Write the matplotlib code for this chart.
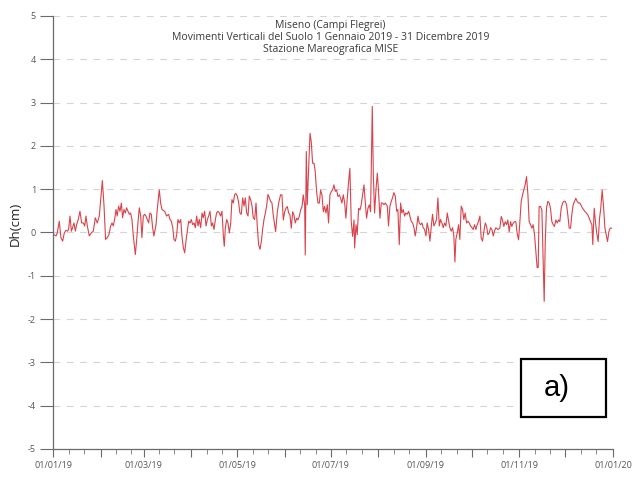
import datetime as dt
import matplotlib
matplotlib.use("Agg")
import matplotlib.pyplot as plt
import matplotlib.dates as mdates
from matplotlib.ticker import FuncFormatter
from matplotlib.patches import Rectangle

# ---- data: days since 01/01/2019 and vertical displacement (cm) ----
days = [
    0.5, 1.8, 2.6, 3.9, 5.0, 6.1, 7.2, 8.3, 9.4, 10.0, 10.9, 11.8, 12.6, 13.5, 14.4, 15.2,
    16.3, 17.4, 18.5, 19.6, 20.5, 21.3, 22.2, 23.5, 24.8, 26.1, 27.4, 28.7, 30.0, 32.0, 33.1,
    34.1, 35.2, 36.3, 37.4, 38.3, 39.1, 40.0, 40.9, 41.7, 42.6, 43.5, 44.4, 45.2, 46.1, 47.0,
    47.8, 48.7, 49.6, 50.4, 51.3, 52.2, 53.5, 54.4, 55.2, 56.1, 57.0, 57.8, 58.7, 59.6, 60.4,
    61.3, 62.2, 63.0, 63.9, 64.8, 65.6, 67.0, 67.8, 69.1, 70.0, 70.9,
    72.6, 73.9, 75.2, 76.1, 77.0, 77.9, 78.7, 79.6, 80.5, 81.3, 82.2, 83.1, 83.9, 84.8, 85.7,
    86.5, 87.4, 88.3, 89.2, 90.0, 90.9, 91.8, 92.6, 93.5, 94.4, 95.2, 96.1, 97.0, 97.8, 98.7,
    99.6, 100.5, 101.3, 102.2, 103.1, 103.9, 104.8, 105.7, 106.5, 107.4, 108.3, 109.1, 110.0,
    110.9, 111.5, 112.2, 113.1, 113.9, 114.8, 115.7, 116.5, 117.4, 118.3, 119.1, 120.0, 120.9,
    121.7, 122.6, 123.5, 124.4, 125.2, 126.1, 127.0, 127.8, 128.7, 129.6, 130.4, 131.3, 132.2,
    133.0, 133.9, 134.8, 135.7, 136.5, 137.4, 138.3, 139.1, 140.0, 140.9, 141.7, 142.6, 143.5,
    145.0, 146.1, 147.2, 148.2, 149.1, 150.0, 150.9, 151.7, 152.6, 153.5, 154.3, 155.2, 156.1,
    156.9, 157.8, 158.7, 159.5, 160.4, 161.3, 162.2, 163.0, 163.9, 164.3, 165.0, 165.6, 166.5,
    167.4, 168.2, 169.1, 170.0, 170.8, 171.7, 172.6, 173.5, 174.3, 175.2, 176.1, 176.9, 177.8,
    178.7, 179.5, 180.4, 181.3, 182.1, 183.0, 183.9, 184.8, 185.6, 186.5, 187.4, 188.2, 189.1,
    190.0, 190.8, 191.7, 192.6, 193.4, 194.3, 195.2, 196.1, 196.5, 197.4, 198.2, 199.1, 200.0,
    200.8, 201.7, 202.6, 203.4, 204.3, 205.2, 206.1, 206.9, 208.0, 208.7, 209.5, 210.4, 211.3,
    212.1, 213.0, 213.9, 214.7, 215.6, 216.5,
    217.8, 218.6, 219.5, 220.4, 221.2, 222.1, 223.0, 223.9, 224.7, 225.6, 226.5, 227.3, 228.2,
    229.1, 229.9, 230.8, 231.7, 232.5, 233.4, 234.3, 235.2, 236.0, 236.9, 237.8, 238.6, 239.5,
    240.4, 241.2, 242.1, 243.0, 243.8, 244.7, 245.6, 246.5, 247.3, 248.2, 249.1, 249.9, 250.8,
    251.7, 252.5, 253.4, 254.3, 255.1, 256.0, 256.9, 257.8, 258.6, 259.5, 260.4, 261.2, 261.9,
    262.5, 263.4, 264.3, 265.1, 266.0, 266.9, 267.7, 268.6, 269.5, 270.4, 271.2, 272.1, 273.0,
    273.8, 274.7, 275.6, 276.4, 277.3, 278.2, 279.0, 279.9, 280.8, 281.7, 282.5, 283.4, 284.3,
    285.1, 286.0, 286.9, 287.7, 288.6, 289.9,
    291.2, 292.1, 292.9, 293.8, 294.7, 295.6, 296.4, 297.3, 298.2, 299.0, 299.9, 300.8, 301.6,
    302.5, 303.4, 304.2, 305.1, 306.0, 306.8, 307.7, 308.6, 309.5, 310.3, 311.2, 312.1, 312.9,
    313.8, 314.7, 315.5, 316.2, 316.8, 317.7, 318.6, 319.5, 320.1, 320.8, 321.6, 322.5, 323.4,
    324.2, 325.1, 326.0, 326.8, 327.7, 328.6, 329.4, 330.3, 331.2, 332.1, 332.9, 333.8, 334.7,
    335.5, 336.4, 337.3, 338.1, 339.0, 339.9, 340.7, 341.6, 342.5, 343.4, 345.1, 346.8, 348.6,
    350.3, 351.2, 351.8, 352.7, 353.6, 354.4, 355.3, 356.2, 357.0, 357.9, 358.8, 359.7, 360.5,
    361.4, 362.3, 363.1, 364.0,
]
dh_cm = [
    -0.05, -0.08, -0.01, 0.26, -0.12, -0.20, -0.01, 0.05, 0.03, 0.08, 0.38, 0.03, 0.11, 0.22, 0.03, 0.18,
    0.30, 0.49, 0.22, 0.22, 0.15, 0.38, 0.15, -0.08, -0.01, 0.03, 0.34, 0.22, 0.38, 1.20, 0.61,
    -0.16, -0.12, -0.05, 0.15, 0.22, 0.15, 0.30, 0.53, 0.38, 0.61, 0.49, 0.68, 0.34, 0.53, 0.45,
    0.57, 0.49, 0.42, 0.45, 0.30, -0.08, -0.51, -0.16, 0.22, 0.57, 0.38, -0.12, 0.38, 0.42, 0.38,
    0.30, 0.22, 0.45, 0.42, 0.11, -0.08, 0.18, 0.53, 0.99, 0.68, 0.53,
    0.49, 0.38, 0.42, 0.30, 0.26, 0.11, -0.16, -0.20, -0.05, 0.30, 0.22, 0.30, -0.08, -0.35, -0.47,
    -0.20, 0.03, 0.26, 0.22, 0.30, 0.18, 0.22, 0.11, 0.38, 0.15, 0.30, 0.11, 0.45, 0.34, 0.49,
    0.15, 0.30, 0.38, 0.49, 0.15, 0.22, 0.07, 0.30, 0.45, 0.49, 0.45, 0.38, 0.49,
    -0.08, -0.32, 0.11, 0.30, 0.22, -0.01, 0.22, 0.76, 0.68, 0.88, 0.90, 0.84, 0.68,
    0.45, 0.42, 0.80, 0.61, 0.80, 0.45, 0.38, 0.84, 0.76, 0.61, 0.34, 0.30, 0.68,
    0.15, -0.28, -0.39, -0.20, 0.07, 0.30, 0.45, 0.61, 0.88, 0.80, 0.72, 0.68, 0.38,
    0.02, 0.48, 0.72, 0.87, 0.87, 0.29, 0.48, 0.56, 0.60, 0.45, 0.41, 0.10, 0.48,
    0.41, 0.22, 0.33, 0.29, 0.37, 0.52, 0.60, 0.87, 0.64, -0.52, 1.87, 0.64, 1.48,
    2.29, 2.10, 1.60, 1.60, 1.41, 0.95, 0.68, 0.68, 0.98, 0.87, 0.48, 0.60, 0.45,
    0.64, 0.22, 0.87, 0.95, 0.98, 1.10, 0.95, 0.98, 0.83, 0.87, 0.79, 0.68, 0.87,
    0.68, 0.33, 0.79, 1.18, 1.48, 0.25, -0.09, 0.29, -0.36, 0.18, -0.05, 0.56, 0.52,
    0.64, 0.87, 1.10, 0.72, 0.33, 0.56, 0.64, 0.48, 2.91, 1.33, 0.45, 0.98, 1.37,
    0.95, 0.33, 0.68, 0.68, 0.64, 0.68,
    0.61, 0.15, 0.61, 0.72, 0.80, 0.92, 0.84, 0.49, 0.53, -0.28, 0.68, 0.45, 0.53,
    0.38, 0.45, 0.42, 0.49, 0.38, 0.26, 0.22, 0.11, -0.08, 0.11, 0.38, 0.22, 0.18,
    0.22, 0.11, 0.07, -0.08, 0.22, 0.07, -0.20, 0.15, 0.42, 0.15, 0.22, 0.30, 0.80,
    0.15, 0.30, 0.22, 0.11, 0.22, 0.15, 0.45, 0.26, 0.11, 0.03, 0.11, -0.08, -0.68,
    -0.16, -0.01, 0.18, -0.16, 0.61, 0.53, 0.30, 0.45, 0.22, 0.26, 0.22, 0.15, 0.11,
    0.07, 0.18, 0.07, 0.18, 0.26, 0.38, -0.12, -0.20, 0.03, 0.22, 0.15, -0.05, -0.01,
    0.11, 0.07, -0.08, 0.03, 0.11, 0.07,
    0.10, 0.37, 0.29, 0.14, 0.25, 0.18, 0.29, 0.02, 0.25, 0.14, 0.22, 0.25, 0.25,
    -0.02, -0.17, 0.22, 0.72, 0.87, 0.98, 1.10, 1.29, 0.87, 0.25, 0.18, 0.10, 0.18,
    -0.05, -0.44, -0.81, -0.81, 0.60, 0.60, 0.52, -0.75, -1.59, -0.21, 0.56, 0.72, 0.68,
    0.56, 0.25, 0.18, 0.14, 0.29, 0.22, 0.29, 0.25, 0.56, 0.68, 0.72, 0.72, 0.64,
    0.41, 0.10, 0.10, 0.41, 0.64, 0.72, 0.79, 0.72, 0.68, 0.68, 0.56, 0.48, 0.41,
    0.25, 0.18, -0.28, 0.56, 0.22, -0.02, -0.21, 0.33, 0.56, 0.98, 0.60, 0.10, -0.05,
    -0.21, 0.02, 0.10, 0.10,
]

title_lines = [
    "Miseno (Campi Flegrei)",
    "Movimenti Verticali del Suolo 1 Gennaio 2019 - 31 Dicembre 2019",
    "Stazione Mareografica MISE",
]
y_label = "Dh(cm)"
y_ticks = [-5, -4, -3, -2, -1, 0, 1, 2, 3, 4, 5]
panel_label = "a)"

start = dt.datetime(2019, 1, 1)
end = dt.datetime(2020, 1, 1)
x = [mdates.date2num(start) + d for d in days]

fig = plt.figure(figsize=(6.32, 4.8), dpi=100)
ax = fig.add_axes([0.0843, 0.0646, 0.8857, 0.9021])

ax.plot(x, dh_cm, color="#d9434b", lw=0.8)

ax.set_xlim(mdates.date2num(start), mdates.date2num(end))
ax.set_ylim(-5, 5)
ax.set_yticks(y_ticks)
ax.set_yticklabels([str(v) for v in y_ticks])

ax.grid(axis="y", color="#d4d4d4", linestyle=(0, (6, 6)), lw=0.8)
ax.set_axisbelow(True)

ax.xaxis.set_major_locator(mdates.MonthLocator())
ax.xaxis.set_minor_locator(mdates.DayLocator(bymonthday=[11, 21]))


def fmt(val, pos):
    d = mdates.num2date(val)
    if d.month % 2 == 1:
        return d.strftime("%d/%m/%y")
    return ""


ax.xaxis.set_major_formatter(FuncFormatter(fmt))

for s in ["top", "right"]:
    ax.spines[s].set_visible(False)
for s in ["left", "bottom"]:
    ax.spines[s].set_color("#6b6b6b")
    ax.spines[s].set_linewidth(0.9)

ax.tick_params(axis="y", which="major", length=9.5, width=0.8, color="#6b6b6b",
               labelsize=6.5, labelcolor="#555555", pad=3)
ax.tick_params(axis="x", which="major", length=5.5, width=0.8, color="#6b6b6b",
               labelsize=6.5, labelcolor="#555555", pad=3.5)
ax.tick_params(axis="x", which="minor", length=3.5, width=0.7, color="#8a8a8a")
for lab in ax.get_xticklabels() + ax.get_yticklabels():
    lab.set_fontfamily("Open Sans")

ax.set_ylabel(y_label, fontsize=9.5, fontfamily="Open Sans", color="#222222")
ax.yaxis.set_label_coords(-0.056, 0.52)

ax.text(0.495, 0.99, "\n".join(title_lines), transform=ax.transAxes,
        ha="center", va="top", fontsize=7.5, fontfamily="Open Sans",
        color="#3a3a3a", linespacing=1.12)

# panel label box
box = Rectangle((0.835, 0.073), 0.152, 0.135, transform=ax.transAxes,
                facecolor="white", edgecolor="black", lw=1.6, zorder=5)
ax.add_patch(box)
ax.text(0.900, 0.14, panel_label, transform=ax.transAxes, ha="center", va="center",
        fontsize=21, fontfamily="Liberation Sans", color="black", zorder=6)

fig.savefig("out.png", dpi=100)
